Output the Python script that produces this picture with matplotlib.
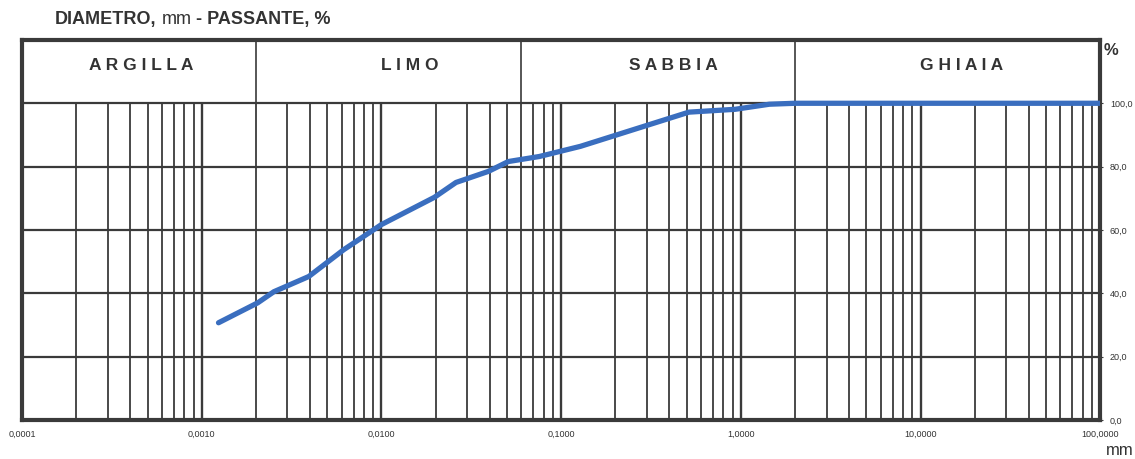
import numpy as np
import matplotlib.pyplot as plt

plt.rcParams['font.family'] = ['Liberation Sans', 'DejaVu Sans']

# curva granulometrica (diametro mm, passante %)
diametro = [0.00124, 0.00205, 0.00252, 0.00394, 0.00618, 0.0100, 0.0197, 0.026,
            0.0394, 0.0508, 0.0757, 0.128, 0.514, 0.93, 1.44, 2.0, 100.0]
passante = [30.7, 37.0, 40.5, 45.3, 53.8, 61.7, 70.3, 75.0,
            78.5, 81.6, 83.2, 86.4, 97.2, 98.1, 99.7, 100.0, 100.0]

classi = ['A R G I L L A', 'L I M O', 'S A B B I A', 'G H I A I A']
limiti = [0.0001, 0.002, 0.06, 2.0, 100.0]
centri_classi = [0.00046, 0.0143, 0.42, 17.0]

x_ticks = [0.0001, 0.001, 0.01, 0.1, 1.0, 10.0, 100.0]
x_labels = ['0,0001', '0,0010', '0,0100', '0,1000', '1,0000', '10,0000', '100,0000']
y_ticks = [0, 20, 40, 60, 80, 100]
y_labels = ['0,0', '20,0', '40,0', '60,0', '80,0', '100,0']

col = '#3a3a3a'
fig = plt.figure(figsize=(11.35, 4.59), dpi=100)
ax = fig.add_axes([0.0194, 0.085, 0.950, 0.828])
ax.set_xscale('log')
ax.set_xlim(0.0001, 100)
ax.set_ylim(0, 120)

# griglia verticale log
for dec in x_ticks[:-1]:
    for m in range(1, 10):
        v = dec * m
        ax.vlines(v, 0, 100, color=col, lw=1.7 if m == 1 else 1.3, zorder=1)
# griglia orizzontale
for y in y_ticks[1:]:
    ax.hlines(y, 0.0001, 100, color=col, lw=1.6, zorder=1)

# intestazione classi
for b in limiti[1:-1]:
    ax.vlines(b, 100, 120, color=col, lw=1.2)
for nome, c in zip(classi, centri_classi):
    ax.text(c, 112, nome, ha='center', va='center', fontsize=12.5,
            fontweight='bold', color='#333333')

ax.plot(diametro, passante, color='#3a6ebf', lw=3.8, solid_capstyle='round', zorder=3)

for s in ax.spines.values():
    s.set_linewidth(3)
    s.set_color(col)

ax.set_xticks(x_ticks)
ax.set_xticklabels(x_labels, fontsize=6.5, color='#333333')
ax.xaxis.set_minor_locator(plt.NullLocator())
ax.tick_params(axis='x', length=0, pad=7)
ax.yaxis.tick_right()
ax.set_yticks(y_ticks)
ax.set_yticklabels(y_labels, fontsize=6.5, color='#333333')
ax.tick_params(axis='y', length=2, pad=5, color=col)

# titolo in tre pezzi (mm non in grassetto)
fig.canvas.draw()
r = fig.canvas.get_renderer()
xpos = 55 / 1135
for testo, peso in [('DIAMETRO,', 'bold'), ('mm', 'normal'), ('- PASSANTE, %', 'bold')]:
    t = fig.text(xpos, 0.958, testo, fontsize=13, fontweight=peso, color='#333333', va='center')
    xpos += (t.get_window_extent(r).width + 5) / 1135

fig.text(0.972, 0.89, '%', fontsize=12, fontweight='bold', color='#333333', va='center')
fig.text(0.974, 0.018, 'mm', fontsize=12, color='#333333', va='center')

fig.savefig('out.png', dpi=100)
